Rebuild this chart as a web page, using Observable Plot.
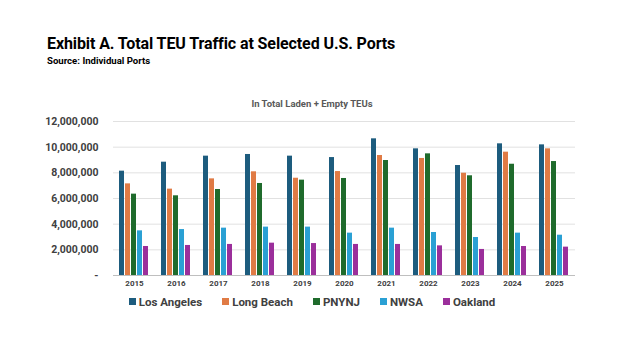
<!DOCTYPE html>
<html><head><meta charset="utf-8">
<script src="https://cdn.jsdelivr.net/npm/d3@7"></script>
<script src="https://cdn.jsdelivr.net/npm/@observablehq/plot@0.6"></script>
<style>
body{margin:0;background:#fff;font-family:Roboto,"Noto Sans",sans-serif;}
#wrap{position:relative;width:624px;height:351px;overflow:hidden;}
#title{position:absolute;left:47px;top:34px;font-size:16px;font-weight:700;color:#000;letter-spacing:-0.1px;white-space:nowrap;}
#source{position:absolute;left:47px;top:55px;font-size:9.6px;font-weight:700;color:#000;white-space:nowrap;}
#sub{position:absolute;left:0;width:624px;text-align:center;top:98px;font-size:9.5px;font-weight:700;color:#595959;}
#chart{position:absolute;left:0;top:110px;}
#legend{position:absolute;left:0;width:624px;top:295px;display:flex;justify-content:center;gap:20px;font-size:11.5px;font-weight:700;color:#404040;}
#legend span.sw{display:inline-block;width:7px;height:7px;margin-right:3px;vertical-align:1px;}
</style></head>
<body><div id="wrap">
<div id="title">Exhibit A. Total TEU Traffic at Selected U.S. Ports</div>
<div id="source">Source: Individual Ports</div>
<div id="sub">In Total Laden + Empty TEUs</div>
<div id="chart"></div>
<div id="legend"></div>
</div>
<script>
const years = ["2015","2016","2017","2018","2019","2020","2021","2022","2023","2024","2025"];
const ports = ["Los Angeles","Long Beach","PNYNJ","NWSA","Oakland"];
const colors = ["#1d5c7e","#e07b45","#1f6b2c","#2aa0d4","#9b2f9b"];
const losAngeles = [8130000,8830000,9300000,9430000,9300000,9190000,10650000,9870000,8570000,10260000,10180000];
const longBeach  = [7140000,6730000,7530000,8080000,7580000,8100000,9350000,9120000,7970000,9610000,9870000];
const pnynj      = [6340000,6210000,6700000,7170000,7430000,7560000,8960000,9480000,7770000,8670000,8880000];
const nwsa       = [3480000,3580000,3690000,3770000,3770000,3300000,3690000,3350000,2960000,3300000,3140000];
const oakland    = [2260000,2340000,2420000,2520000,2490000,2420000,2420000,2310000,2030000,2260000,2210000];
const yTicks = [0,2000000,4000000,6000000,8000000,10000000,12000000];

const series = [losAngeles, longBeach, pnynj, nwsa, oakland];
const data = [];
years.forEach((y, i) => ports.forEach((p, j) => data.push({year: y, port: p, value: series[j][i]})));

const chart = Plot.plot({
  width: 624, height: 185,
  marginLeft: 112, marginRight: 49, marginTop: 11, marginBottom: 20,
  style: {fontFamily: "Roboto, 'Noto Sans', sans-serif", background: "transparent"},
  fx: {domain: years, padding: 0, label: null, axis: "bottom", tickSize: 0, tickPadding: 5},
  x: {domain: ports, paddingInner: 0.1, paddingOuter: 0.89, axis: null},
  y: {domain: [0, 12000000], ticks: yTicks, axis: null},
  color: {domain: ports, range: colors},
  marks: [
    Plot.ruleY(yTicks.filter(d => d > 0), {stroke: "#d9d9d9", strokeWidth: 0.8}),
    Plot.ruleY([0], {stroke: "#bfbfbf", strokeWidth: 1}),
    Plot.barY(data, {fx: "year", x: "port", y: "value", fill: "port"}),
    Plot.axisY({ticks: yTicks, tickSize: 0, tickPadding: 15, label: null,
      tickFormat: d => d === 0 ? "-" : d3.format(",")(d),
      fontSize: 10.5, fontWeight: 700, fill: "#404040"})
  ]
});
d3.select(chart).selectAll("[aria-label='fx-axis tick label'] text, g[aria-label='fx-axis tick label']")
  .attr("font-size", 8).attr("font-weight", 700).attr("fill", "#404040");
document.getElementById("chart").appendChild(chart);

const lg = document.getElementById("legend");
ports.forEach((p, i) => {
  const d = document.createElement("div");
  d.innerHTML = `<span class="sw" style="background:${colors[i]}"></span>${p}`;
  lg.appendChild(d);
});
</script>
</body></html>
